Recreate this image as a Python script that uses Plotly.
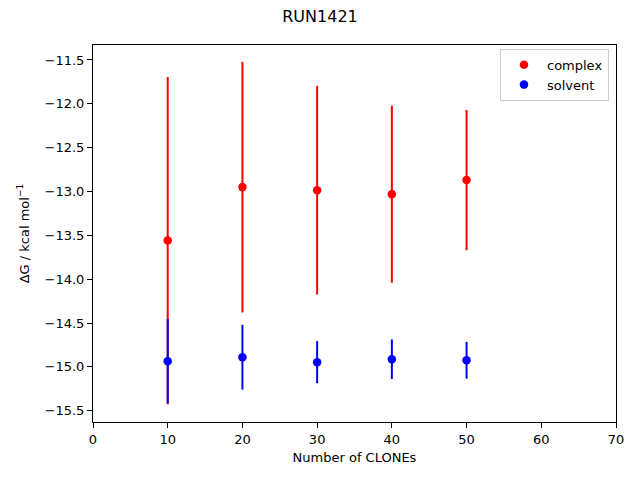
import plotly.graph_objects as go

clones = [10, 20, 30, 40, 50]
complex_dg = [-13.56, -12.95, -12.985, -13.03, -12.87]
complex_err = [1.867, 1.43, 1.19, 1.01, 0.80]
solvent_dg = [-14.935, -14.89, -14.947, -14.913, -14.925]
solvent_err = [0.48, 0.37, 0.24, 0.225, 0.21]
x_ticks = [0, 10, 20, 30, 40, 50, 60, 70]
y_ticks = [-11.5, -12.0, -12.5, -13.0, -13.5, -14.0, -14.5, -15.0, -15.5]

font = "DejaVu Sans"

fig = go.Figure()
fig.add_trace(go.Scatter(
    x=clones, y=complex_dg, mode="markers", name="complex",
    marker=dict(color="red", size=8.5),
    error_y=dict(type="data", array=complex_err, visible=True, color="red", thickness=2, width=0),
))
fig.add_trace(go.Scatter(
    x=clones, y=solvent_dg, mode="markers", name="solvent",
    marker=dict(color="blue", size=8.5),
    error_y=dict(type="data", array=solvent_err, visible=True, color="blue", thickness=2, width=0),
))

axis_common = dict(
    showgrid=False, zeroline=False, showline=True, linecolor="black", linewidth=1,
    mirror=True, ticks="outside", ticklen=5, tickwidth=1, tickcolor="black",
    tickfont=dict(family=font, size=13, color="black"),
)

fig.update_layout(
    width=640, height=480,
    paper_bgcolor="white", plot_bgcolor="white",
    margin=dict(l=85, r=32, t=37, b=66),
    title=dict(text="RUN1421", x=(320 - 8) / 640, xanchor="center", y=1 - 8 / 480, yanchor="middle",
               font=dict(family=font, size=16, color="black")),
    xaxis=dict(range=[0, 70], tickvals=x_ticks, ticktext=[str(v) for v in x_ticks],
               title=dict(text="Number of CLONEs", font=dict(family=font, size=13, color="black"), standoff=7),
               **axis_common),
    yaxis=dict(range=[-15.629, -11.329], tickvals=y_ticks,
               ticktext=[f"\u2212{abs(v):.1f}" for v in y_ticks],
               title=dict(text="\u0394G / kcal mol<sup>\u22121</sup>", font=dict(family=font, size=13, color="black"), standoff=12),
               **axis_common),
    legend=dict(x=0.9866, xanchor="right", y=0.99, yanchor="top",
                bordercolor="#cccccc", borderwidth=1, bgcolor="rgba(255,255,255,0.8)",
                font=dict(family=font, size=13, color="black"), itemwidth=36),
    showlegend=True,
)

fig.write_html("out.html")
